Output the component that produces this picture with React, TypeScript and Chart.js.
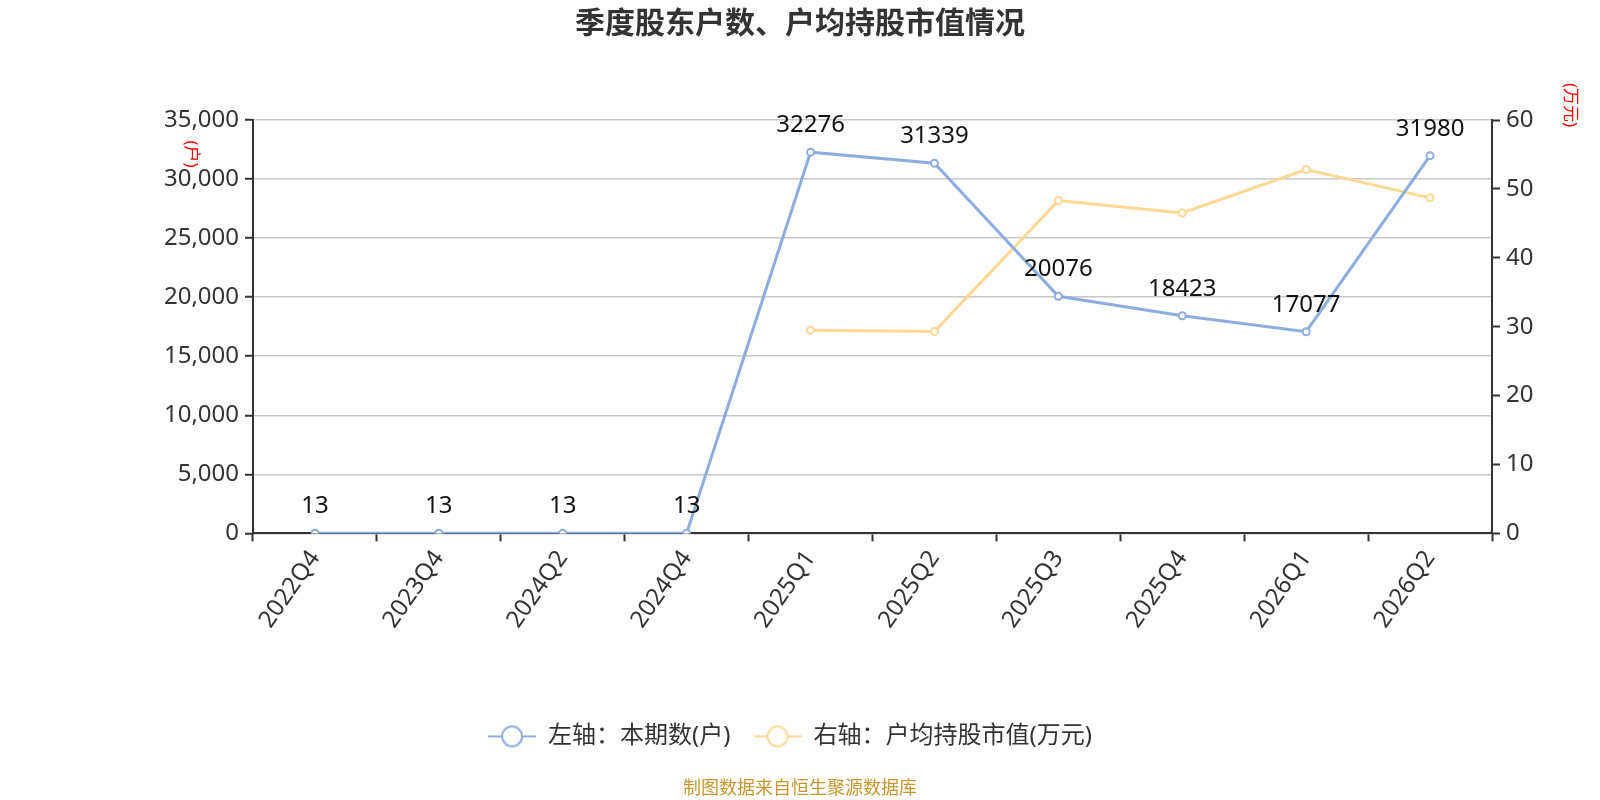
import React, { useEffect, useRef } from "react";
import { Chart, registerables } from "chart.js";

Chart.register(...registerables);

const categories = ["2022Q4", "2023Q4", "2024Q2", "2024Q4", "2025Q1", "2025Q2", "2025Q3", "2025Q4", "2026Q1", "2026Q2"];
const holderCounts = [13, 13, 13, 13, 32276, 31339, 20076, 18423, 17077, 31980];
const avgHoldingValue = [null, null, null, null, 29.5, 29.3, 48.3, 46.5, 52.8, 48.7];

const titleText = "季度股东户数、户均持股市值情况";
const seriesNames = ["左轴：本期数(户)", "右轴：户均持股市值(万元)"];
const leftUnit = "(户)";
const rightUnit = "(万元)";
const footerText = "制图数据来自恒生聚源数据库";

const BLUE = "#8daedc";
const YELLOW = "#ffd895";
const FONT = "'Noto Sans', 'Noto Sans CJK SC', sans-serif";

function makeLegendSymbol(color: string) {
  const c = document.createElement("canvas");
  c.width = 48;
  c.height = 26;
  const ctx = c.getContext("2d")!;
  ctx.strokeStyle = color;
  ctx.lineWidth = 2;
  ctx.beginPath();
  ctx.moveTo(0, 13);
  ctx.lineTo(48, 13);
  ctx.stroke();
  ctx.beginPath();
  ctx.arc(24, 13, 10, 0, Math.PI * 2);
  ctx.fillStyle = "#fff";
  ctx.fill();
  ctx.stroke();
  return c;
}

const overlayPlugin = {
  id: "overlay",
  afterLayout(chart: any) {
    const lg = chart.legend;
    if (lg) {
      lg.left -= 10;
      lg.right -= 10;
    }
  },
  afterDatasetsDraw(chart: any) {
    const ctx = chart.ctx;
    const meta = chart.getDatasetMeta(0);
    ctx.save();
    ctx.font = `24px ${FONT}`;
    ctx.fillStyle = "#111";
    ctx.textAlign = "center";
    ctx.textBaseline = "bottom";
    meta.data.forEach((pt: any, i: number) => {
      ctx.fillText(String(holderCounts[i]), pt.x, pt.y - 15);
    });
    ctx.restore();

    const yL = chart.scales.y;
    const yR = chart.scales.y1;
    ctx.save();
    ctx.font = `17px ${FONT}`;
    ctx.fillStyle = "#ff0000";
    ctx.textAlign = "center";
    ctx.textBaseline = "middle";
    ctx.translate(yL.right - 62, yL.top + 34);
    ctx.rotate(Math.PI / 2);
    ctx.fillText(leftUnit, 0, 0);
    ctx.restore();
    ctx.save();
    ctx.font = `17px ${FONT}`;
    ctx.fillStyle = "#ff0000";
    ctx.textAlign = "center";
    ctx.textBaseline = "middle";
    ctx.translate(yR.left + 78, yR.top - 15);
    ctx.rotate(Math.PI / 2);
    ctx.fillText(rightUnit, 0, 0);
    ctx.restore();
  },
};

export default function App() {
  const ref = useRef<HTMLCanvasElement>(null);
  useEffect(() => {
    document.body.style.margin = "0";
    const symbols = [makeLegendSymbol(BLUE), makeLegendSymbol(YELLOW)];
    const chart = new Chart(ref.current!, {
      type: "line",
      data: {
        labels: categories,
        datasets: [
          {
            label: seriesNames[0],
            data: holderCounts,
            yAxisID: "y",
            borderColor: BLUE,
            backgroundColor: "#fff",
            borderWidth: 3,
            pointRadius: 3.5,
            pointBorderWidth: 2,
            pointBackgroundColor: "#fff",
            pointBorderColor: BLUE,
            tension: 0,
          },
          {
            label: seriesNames[1],
            data: avgHoldingValue,
            yAxisID: "y1",
            borderColor: YELLOW,
            backgroundColor: "#fff",
            borderWidth: 3,
            pointRadius: 3.5,
            pointBorderWidth: 2,
            pointBackgroundColor: "#fff",
            pointBorderColor: YELLOW,
            tension: 0,
            spanGaps: false,
          },
        ],
      },
      options: {
        responsive: false,
        animation: false,
        devicePixelRatio: 1,
        layout: { padding: { left: 0, right: 0, top: 0, bottom: 0 } },
        plugins: {
          title: {
            display: true,
            text: titleText,
            color: "#333",
            font: { family: FONT, size: 30, weight: "bold" },
            padding: { top: 6, bottom: 78 },
          },
          subtitle: {
            display: true,
            position: "bottom",
            text: footerText,
            color: "#c8962e",
            font: { family: FONT, size: 18 },
            padding: { top: 20, bottom: 0 },
          },
          legend: {
            position: "bottom",
            labels: {
              usePointStyle: true,
              pointStyleWidth: 48,
              boxHeight: 24,
              padding: 23,
              color: "#333",
              font: { family: FONT, size: 24 },
              generateLabels: (chart: any) =>
                chart.data.datasets.map((ds: any, i: number) => ({
                  text: ds.label,
                  datasetIndex: i,
                  pointStyle: symbols[i],
                  fillStyle: "#fff",
                  strokeStyle: ds.borderColor,
                  lineWidth: 0,
                  fontColor: "#333",
                  hidden: false,
                })),
            },
          },
          tooltip: { enabled: false },
        },
        scales: {
          x: {
            type: "category",
            offset: true,
            grid: {
              offset: true,
              drawOnChartArea: false,
              drawTicks: true,
              tickLength: 8,
              tickColor: "#333",
              tickWidth: 2,
            },
            border: { display: true, color: "#333", width: 2 },
            ticks: {
              color: "#333",
              font: { family: FONT, size: 24 },
              minRotation: 55,
              maxRotation: 55,
              padding: 4,
              autoSkip: false,
            },
            afterFit: (s: any) => {
              s.height = 168;
            },
          },
          y: {
            type: "linear",
            position: "left",
            min: 0,
            max: 35000,
            grid: {
              color: "#c8c8c8",
              lineWidth: 1.5,
              drawTicks: true,
              tickLength: 8,
              tickColor: "#333",
              tickWidth: 2,
            },
            border: { display: true, color: "#333", width: 2 },
            ticks: {
              stepSize: 5000,
              color: "#333",
              font: { family: FONT, size: 24 },
              padding: 6,
              callback: (v: any) => Number(v).toLocaleString("en-US"),
            },
            afterFit: (s: any) => {
              s.width = 253;
            },
          },
          y1: {
            type: "linear",
            position: "right",
            min: 0,
            max: 60,
            grid: {
              drawOnChartArea: false,
              drawTicks: true,
              tickLength: 8,
              tickColor: "#333",
              tickWidth: 2,
            },
            border: { display: true, color: "#333", width: 2 },
            ticks: {
              stepSize: 10,
              color: "#333",
              font: { family: FONT, size: 24 },
              padding: 6,
            },
            afterFit: (s: any) => {
              s.width = 108;
            },
          },
        },
      },
      plugins: [overlayPlugin],
    });
    return () => chart.destroy();
  }, []);
  return (
    <div style={{ width: 1600, height: 800 }}>
      <canvas ref={ref} width={1600} height={800} style={{ width: 1600, height: 800, display: "block" }} />
    </div>
  );
}
